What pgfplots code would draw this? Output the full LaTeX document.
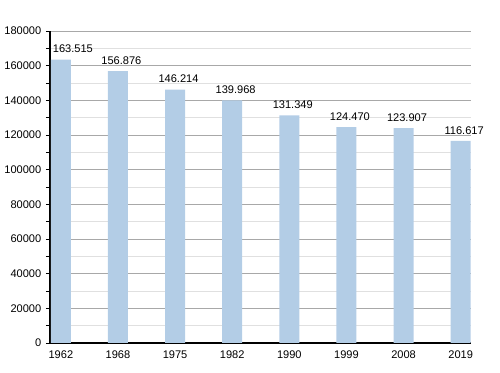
\documentclass[border=0pt]{standalone}
\usepackage{pgfplots}
\pgfplotsset{compat=1.18}
\usepackage{pgfplotstable}
\usepackage{fontspec}
\setmainfont{Liberation Sans}
\definecolor{barc}{HTML}{B3CDE6}
\definecolor{majg}{HTML}{A8A8A8}
\definecolor{ming}{HTML}{E0E0E0}
\pgfplotstableread{
x xl y lab
0 0.21 163515 163.515
1 1.06 156876 156.876
2 2.06 146214 146.214
3 3.06 139968 139.968
4 4.06 131349 131.349
5 5.06 124470 124.470
6 6.06 123907 123.907
7 7.06 116617 116.617
}\data
\begin{document}
\begin{tikzpicture}
\useasboundingbox (-37.5pt,-22.5pt) rectangle (337.5pt,257.25pt);
\begin{axis}[
  at={(0,0)}, anchor=south west,
  scale only axis, width=315.75pt, height=234pt,
  xmin=-0.19, xmax=7.18, ymin=0, ymax=180000,
  xtick={0,...,7}, xticklabels={1962,1968,1975,1982,1990,1999,2008,2019},
  x tick style={draw=none},
  ytick={0,20000,...,180000},
  minor ytick={10000,30000,...,170000},
  scaled y ticks=false,
  y tick label style={/pgf/number format/.cd, fixed, set thousands separator={}, assume math mode=true},
  tick label style={font=\fontsize{8.3}{10}\selectfont},
  ymajorgrids, yminorgrids,
  major grid style={majg, line width=0.6pt},
  minor grid style={ming, line width=0.5pt},
  axis x line*=bottom, axis y line*=left,
  axis line style={black, line width=0.8pt},
  y tick style={black, line width=0.5pt},
  tick align=outside,
  major tick length=3pt, minor tick length=3pt,
  xticklabel style={yshift=1pt},
  clip=false,
]
\addplot[ybar, bar width=15pt, fill=barc, draw=none] table[x=x, y=y] {\data};
\addplot[draw=none, mark=none, nodes near coords, point meta=explicit symbolic,
  every node near coord/.append style={font=\fontsize{8.3}{10}\selectfont, black, yshift=1.5pt}]
  table[x=xl, y=y, meta=lab] {\data};
\end{axis}
\end{tikzpicture}
\end{document}
